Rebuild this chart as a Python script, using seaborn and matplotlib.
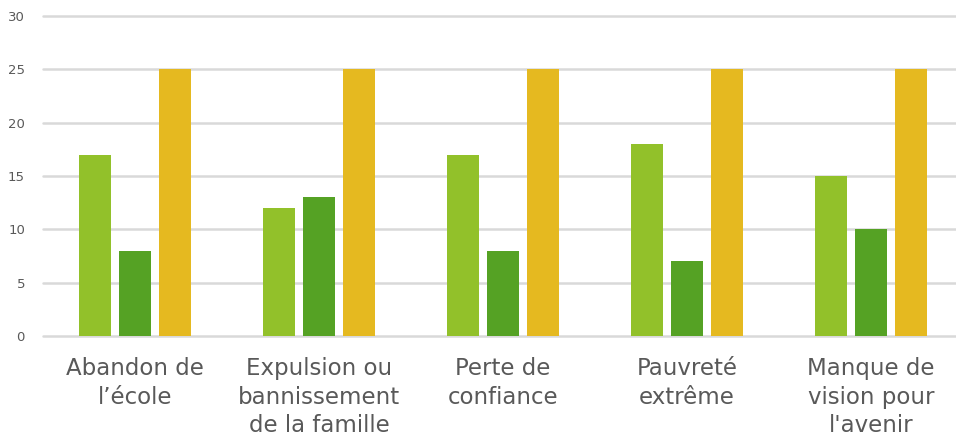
import matplotlib
matplotlib.use('Agg')
import matplotlib.pyplot as plt
import pandas as pd
import seaborn as sns

# Data
categories = ['Abandon de\nl\u2019école', 'Expulsion ou\nbannissement\nde la famille',
              'Perte de\nconfiance', 'Pauvreté\nextrême', 'Manque de\nvision pour\nl\'avenir']
series_a = [17, 12, 17, 18, 15]
series_b = [8, 13, 8, 7, 10]
series_c = [25, 25, 25, 25, 25]
series_names = ['Série 1', 'Série 2', 'Série 3']
colors = ['#92C12A', '#55A224', '#E5B920']

rows = []
for name, vals in zip(series_names, [series_a, series_b, series_c]):
    for cat, v in zip(categories, vals):
        rows.append({'cat': cat, 'serie': name, 'val': v})
df = pd.DataFrame(rows)

sns.set_style('white')
plt.rcParams['font.family'] = ['DejaVu Sans']

fig = plt.figure(figsize=(9.56, 4.43), dpi=100)
ax = fig.add_axes([43/956, 107/443, 920/956, 320/443])
sns.barplot(data=df, x='cat', y='val', hue='serie', order=categories,
            hue_order=series_names, palette=colors, width=0.66, gap=0.21,
            saturation=1, linewidth=0, ax=ax, zorder=3, legend=False)

ax.set_ylim(0, 30)
ax.set_xlim(-0.5, 4.5)
ax.set_yticks(range(0, 31, 5))
ax.yaxis.grid(True, color='#D9D9D9', linewidth=1.8, zorder=0)
ax.set_axisbelow(True)
for gl in ax.get_ygridlines():
    gl.set_clip_on(False)
for s in ax.spines.values():
    s.set_visible(False)
ax.tick_params(axis='y', length=0, labelsize=9.5, labelcolor='#595959', pad=13)
ax.tick_params(axis='x', length=0, labelsize=16.5, labelcolor='#595959', pad=15)
for lbl in ax.get_xticklabels():
    lbl.set_linespacing(1.32)
ax.set_xlabel('')
ax.set_ylabel('')

fig.savefig('out.png', dpi=100)
